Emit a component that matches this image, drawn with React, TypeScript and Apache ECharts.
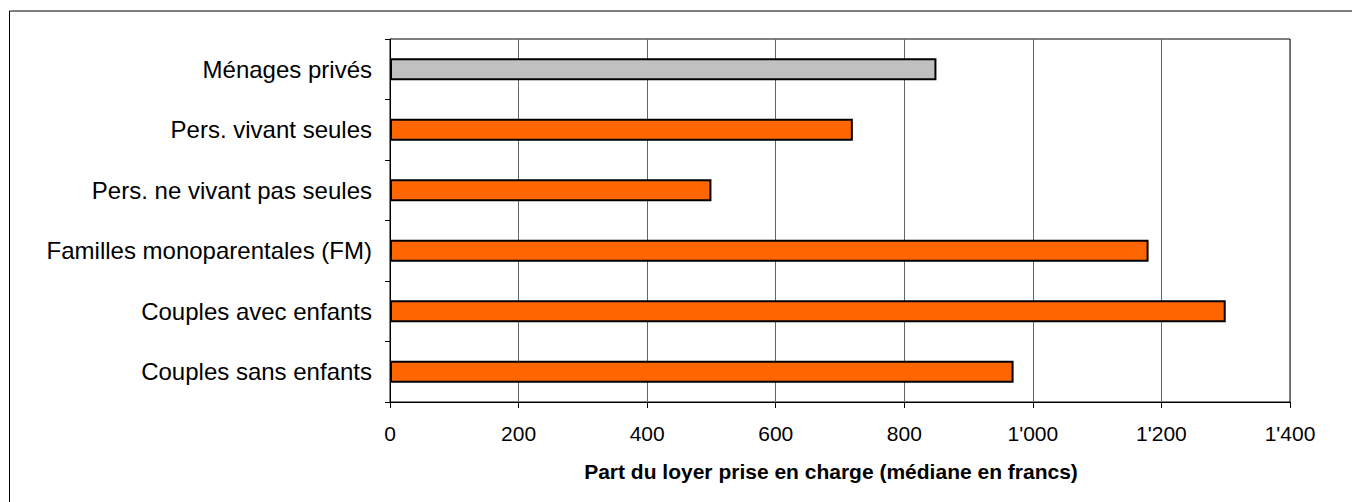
import React, { useEffect, useRef } from "react";
import * as echarts from "echarts";

const categories = [
  "Ménages privés",
  "Pers. vivant seules",
  "Pers. ne vivant pas seules",
  "Familles monoparentales (FM)",
  "Couples avec enfants",
  "Couples sans enfants",
];
const values = [850, 720, 500, 1180, 1300, 970];
const barColors = ["#c0c0c0", "#ff6600", "#ff6600", "#ff6600", "#ff6600", "#ff6600"];
const xTicks = [0, 200, 400, 600, 800, 1000, 1200, 1400];
const axisTitle = "Part du loyer prise en charge (médiane en francs)";

const FONT = "'Liberation Sans', Arial, Helvetica, sans-serif";

function fmt(v: number): string {
  const s = String(Math.round(v));
  return s.replace(/\B(?=(\d{3})+(?!\d))/g, "'");
}

export default function App() {
  const ref = useRef<HTMLDivElement>(null);
  useEffect(() => {
    if (!ref.current) return;
    const chart = echarts.init(ref.current, null, { renderer: "svg" });
    chart.setOption({
      animation: false,
      backgroundColor: "#ffffff",
      graphic: [
        {
          type: "rect",
          shape: { x: 9.5, y: 11, width: 1500, height: 700 },
          style: { fill: "none", stroke: "#000", lineWidth: 1 },
          silent: true,
        },
      ],
      grid: {
        left: 390,
        top: 39,
        width: 900,
        height: 363,
        show: true,
        borderColor: "#000",
        borderWidth: 1,
        backgroundColor: "transparent",
      },
      xAxis: {
        type: "value",
        min: xTicks[0],
        max: xTicks[xTicks.length - 1],
        interval: 200,
        axisLine: { show: true, lineStyle: { color: "#000", width: 1 } },
        axisTick: { show: true, length: 6, lineStyle: { color: "#000" } },
        axisLabel: {
          margin: 21,
          color: "#000",
          fontSize: 21,
          fontFamily: FONT,
          formatter: (v: number) => fmt(v),
        },
        splitLine: { show: true, lineStyle: { color: "#666", width: 1 } },
        name: axisTitle,
        nameLocation: "middle",
        nameGap: 59,
        nameTextStyle: {
          color: "#000",
          fontSize: 21,
          fontWeight: "bold",
          fontFamily: FONT,
          padding: [0, 18, 0, 0],
        },
      },
      yAxis: {
        type: "category",
        data: categories,
        inverse: true,
        axisLine: { show: true, lineStyle: { color: "#000", width: 1 } },
        axisTick: { show: true, length: 5, alignWithLabel: false, lineStyle: { color: "#000" } },
        axisLabel: {
          margin: 18,
          color: "#000",
          fontSize: 24,
          fontFamily: FONT,
        },
        splitLine: { show: false },
      },
      series: [
        {
          type: "bar",
          data: values.map((v, i) => ({
            value: v,
            itemStyle: { color: barColors[i] },
          })),
          barWidth: 22,
          itemStyle: { borderColor: "#000", borderWidth: 2 },
        },
      ],
    });
    return () => chart.dispose();
  }, []);
  return (
    <div
      ref={ref}
      style={{ position: "absolute", left: 0, top: 0, width: 1352, height: 502 }}
    />
  );
}
